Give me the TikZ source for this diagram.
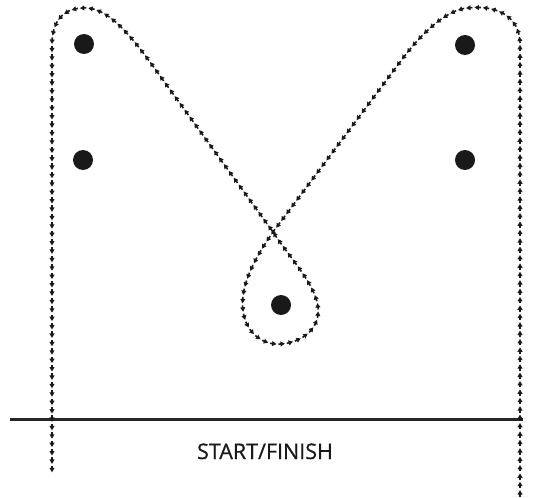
\documentclass[tikz,border=0pt]{standalone}
\usepackage{fontspec}
\setmainfont{Open Sans}
\usetikzlibrary{decorations.markings}
\tikzset{
  route/.style={postaction={decorate},
    decoration={markings,
      mark=between positions 4pt and 1 step 8.4pt with {
        \fill[black!90] (-3.6pt,-0.8pt) rectangle (0pt,0.8pt);
        \fill[black!90] (-1.6pt,-2.6pt) -- (2.8pt,0pt) -- (-1.6pt,2.6pt) -- cycle;
      }}},
  ball/.style={circle,fill=black!90,minimum size=20pt,inner sep=0pt},
  lbl/.style={font=\fontsize{21.5pt}{24pt}\selectfont,text=black!90,inner sep=0pt}
}
\begin{document}
\begin{tikzpicture}[x=1pt,y=-1pt]
\useasboundingbox (0,0) rectangle (545,497);
\node[ball] (b1) at (84,44) {};
\node[ball] (b2) at (465,45) {};
\node[ball] (b3) at (83,160) {};
\node[ball] (b4) at (465,160) {};
\node[ball] (b5) at (281,305) {};
\coordinate (s) at (520,497);
\coordinate (e) at (52,472);
\coordinate (x) at (273,232);
\coordinate (la) at (10,419);
\coordinate (lb) at (523,419);
\draw[line width=3pt,black!85] (la) -- (lb);
\node[lbl,anchor=base] (t) at (265,459) {\addfontfeature{FakeBold=0.6}START/FINISH};
\path[route] (s) -- (520,45)
  .. controls (520,15) and (495,5) .. (468,8)
  .. controls (445,10) and (420,35) .. (400,62)
  -- (x)
  .. controls (255,258) and (240,285) .. (243,310)
  .. controls (246,335) and (265,345) .. (280,344)
  .. controls (300,343) and (320,330) .. (318,308)
  .. controls (316,285) and (290,258) .. (x)
  -- (150,62)
  .. controls (125,28) and (105,7) .. (83,8)
  .. controls (60,9) and (52,25) .. (52,45)
  -- (e);
\end{tikzpicture}
\end{document}
